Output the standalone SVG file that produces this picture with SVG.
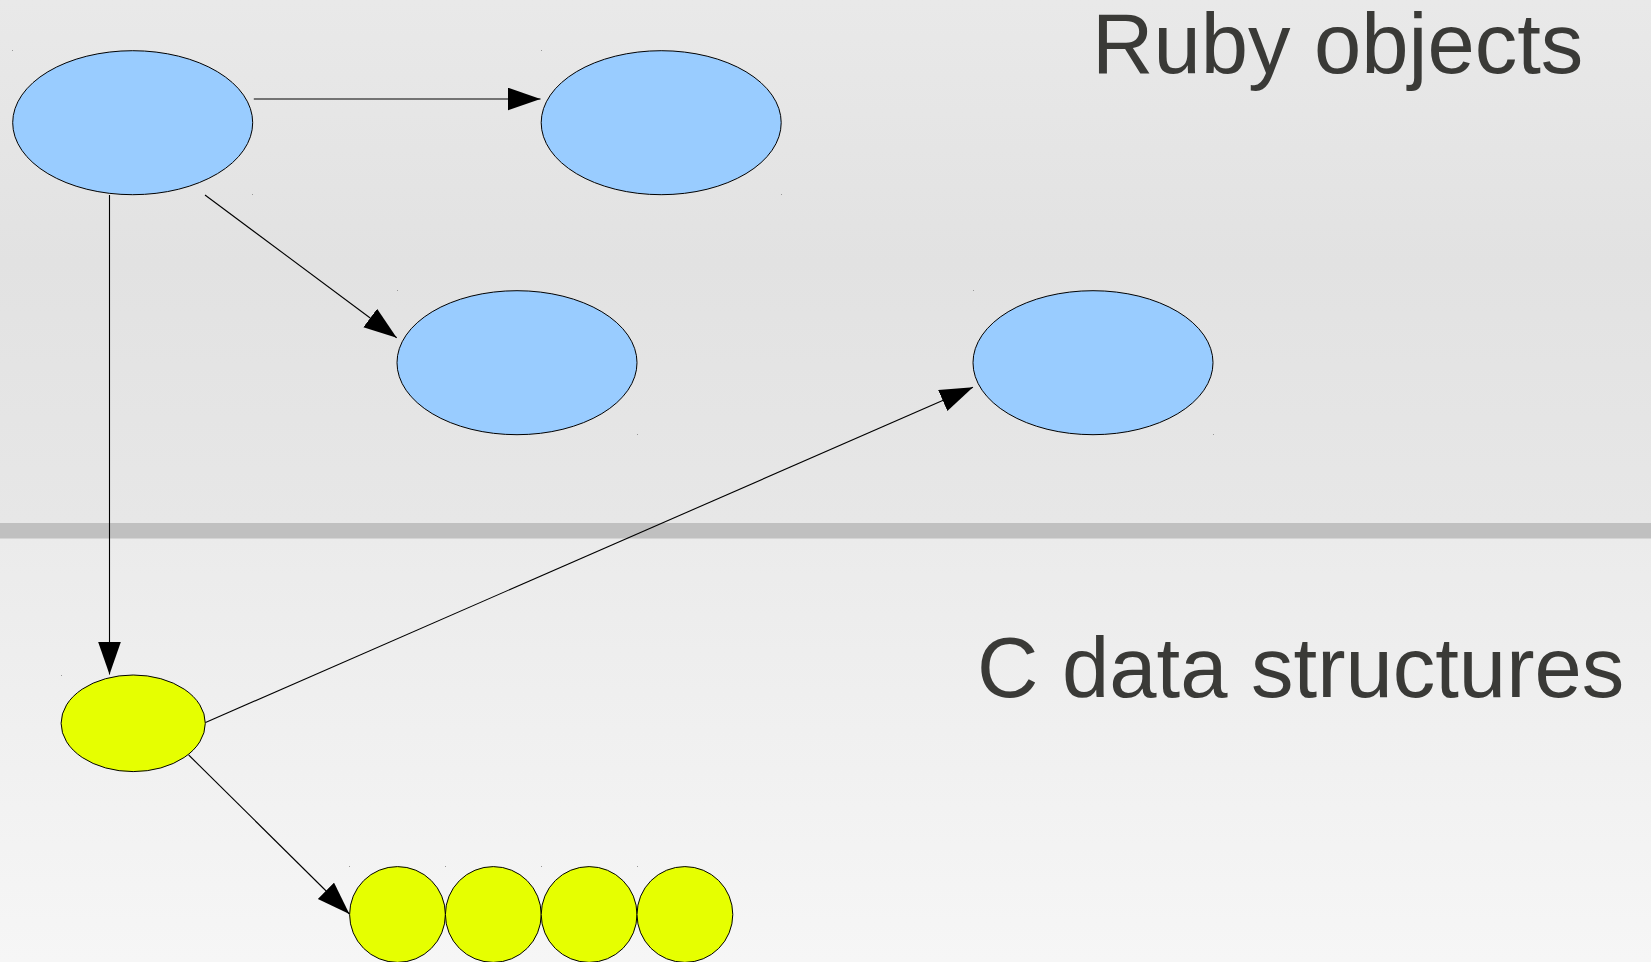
<svg xmlns="http://www.w3.org/2000/svg" width="1651" height="962" viewBox="0 0 1651 962">
<defs>
<linearGradient id="gTop" x1="0" y1="0" x2="0" y2="1">
<stop offset="0" stop-color="#e9e9e9"/>
<stop offset="0.5" stop-color="#e2e2e2"/>
<stop offset="1" stop-color="#e7e7e7"/>
</linearGradient>
<linearGradient id="gBot" x1="0" y1="0" x2="0" y2="1">
<stop offset="0" stop-color="#ebebeb"/>
<stop offset="1" stop-color="#f6f6f6"/>
</linearGradient>
<marker id="arr" markerUnits="userSpaceOnUse" markerWidth="34" markerHeight="24" refX="33" refY="11.5" orient="auto">
<path d="M0,0 L33,11.5 L0,23 z" fill="#000"/>
</marker>
</defs>
<style>
.ruby{fill:#99ccff;stroke:#000;stroke-width:1}
.cds{fill:#e6ff00;stroke:#000;stroke-width:1}
.conn{fill:none;stroke:#000;stroke-width:1.1;marker-end:url(#arr)}
.lbl{font-family:"Liberation Sans",Arial,sans-serif;font-size:85px;fill:#3a3a37}
.dot{fill:#999}
</style>
<rect x="0" y="0" width="1651" height="523" fill="url(#gTop)"/>
<rect x="0" y="538" width="1651" height="424" fill="url(#gBot)"/>
<rect x="0" y="523" width="1651" height="15.5" fill="#c0c0c0"/>

<text class="lbl" x="1092" y="73">Ruby objects</text>
<text class="lbl" x="977" y="697">C data structures</text>

<g id="nodeA"><ellipse class="ruby" cx="132.7" cy="122.7" rx="120" ry="72"/><rect class="dot" x="12" y="50" width="1" height="1"/><rect class="dot" x="252" y="194" width="1" height="1"/></g>
<g id="nodeB"><ellipse class="ruby" cx="661.2" cy="122.7" rx="120" ry="72"/><rect class="dot" x="541" y="50" width="1" height="1"/><rect class="dot" x="781" y="194" width="1" height="1"/></g>
<g id="nodeC"><ellipse class="ruby" cx="517" cy="362.7" rx="120" ry="72"/><rect class="dot" x="397" y="290" width="1" height="1"/><rect class="dot" x="637" y="434" width="1" height="1"/></g>
<g id="nodeD"><ellipse class="ruby" cx="1093" cy="362.7" rx="120" ry="72"/><rect class="dot" x="973" y="290" width="1" height="1"/><rect class="dot" x="1213" y="434" width="1" height="1"/></g>
<g id="nodeE"><ellipse class="cds" cx="133.2" cy="723.3" rx="72.1" ry="48.3"/><rect class="dot" x="61" y="675" width="1" height="1"/></g>
<g id="cell1"><circle class="cds" cx="397.5" cy="914.5" r="47.9"/><rect class="dot" x="349" y="866" width="1" height="1"/></g>
<g id="cell2"><circle class="cds" cx="493.3" cy="914.5" r="47.9"/><rect class="dot" x="445" y="866" width="1" height="1"/></g>
<g id="cell3"><circle class="cds" cx="589.1" cy="914.5" r="47.9"/><rect class="dot" x="541" y="866" width="1" height="1"/></g>
<g id="cell4"><circle class="cds" cx="684.9" cy="914.5" r="47.9"/><rect class="dot" x="637" y="866" width="1" height="1"/></g>

<g id="connectors">
<line class="conn" x1="253.8" y1="99" x2="540.5" y2="99"/>
<line class="conn" x1="205" y1="195" x2="396.7" y2="337.7"/>
<line class="conn" x1="109.5" y1="195" x2="109.5" y2="674.5"/>
<line class="conn" x1="205.5" y1="722.5" x2="973" y2="387.3"/>
<line class="conn" x1="188.7" y1="755" x2="349.4" y2="914"/>
</g>
</svg>
